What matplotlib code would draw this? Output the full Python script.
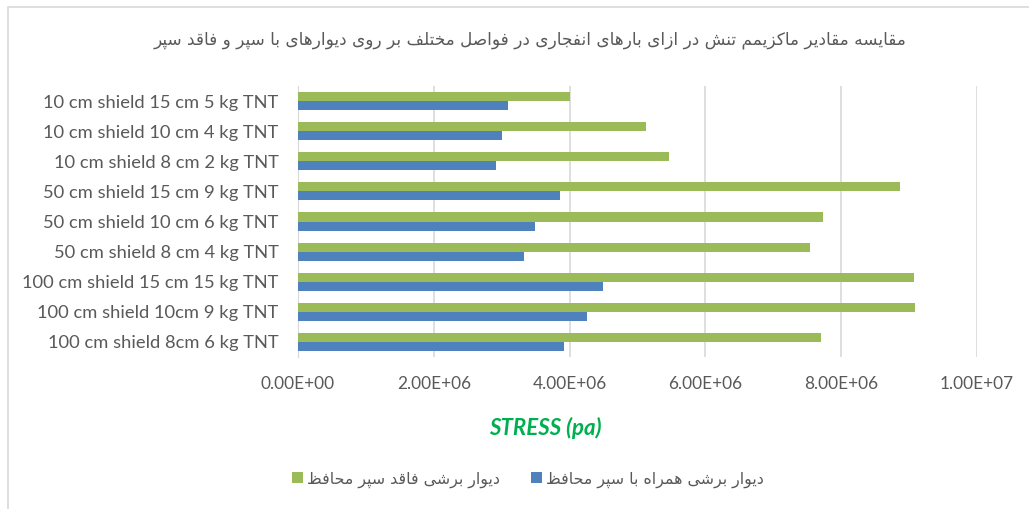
import numpy as np
import matplotlib
matplotlib.use("Agg")
import matplotlib.pyplot as plt
from matplotlib.patches import Rectangle
from matplotlib.ticker import FuncFormatter

# Data (top to bottom as shown in the chart)
categories = [
    "10 cm shield 15 cm 5 kg TNT",
    "10 cm shield 10 cm 4 kg TNT",
    "10 cm shield 8 cm 2 kg TNT",
    "50 cm shield 15 cm 9 kg TNT",
    "50 cm shield 10 cm 6 kg TNT",
    "50 cm shield 8 cm 4 kg TNT",
    "100 cm shield 15 cm 15 kg TNT",
    "100 cm shield 10cm 9 kg TNT",
    "100 cm shield 8cm 6 kg TNT",
]
no_shield = [4.00e6, 5.13e6, 5.46e6, 8.86e6, 7.73e6, 7.54e6, 9.07e6, 9.09e6, 7.70e6]
with_shield = [3.09e6, 3.00e6, 2.92e6, 3.86e6, 3.49e6, 3.33e6, 4.49e6, 4.26e6, 3.92e6]
x_ticks = [0, 2e6, 4e6, 6e6, 8e6, 1e7]

title_fa = "مقایسه مقادیر ماکزیمم تنش در ازای بارهای انفجاری در فواصل مختلف بر روی دیوارهای با سپر و فاقد سپر"
label_no_shield = "دیوار برشی فاقد سپر محافظ"
label_shield = "دیوار برشی همراه با سپر محافظ"

# minimal Persian shaping (matplotlib has no bidi / joining support)
FORMS = {
    "ا": (0xFE8D, 0xFE8E), "د": (0xFEA9, 0xFEAA), "ر": (0xFEAD, 0xFEAE),
    "ز": (0xFEAF, 0xFEB0), "و": (0xFEED, 0xFEEE),
    "ب": (0xFE8F, 0xFE90, 0xFE91, 0xFE92), "پ": (0xFB56, 0xFB57, 0xFB58, 0xFB59),
    "ت": (0xFE95, 0xFE96, 0xFE97, 0xFE98), "ج": (0xFE9D, 0xFE9E, 0xFE9F, 0xFEA0),
    "ح": (0xFEA1, 0xFEA2, 0xFEA3, 0xFEA4), "خ": (0xFEA5, 0xFEA6, 0xFEA7, 0xFEA8),
    "س": (0xFEB1, 0xFEB2, 0xFEB3, 0xFEB4), "ش": (0xFEB5, 0xFEB6, 0xFEB7, 0xFEB8),
    "ص": (0xFEB9, 0xFEBA, 0xFEBB, 0xFEBC), "ظ": (0xFEC5, 0xFEC6, 0xFEC7, 0xFEC8),
    "ف": (0xFED1, 0xFED2, 0xFED3, 0xFED4), "ق": (0xFED5, 0xFED6, 0xFED7, 0xFED8),
    "ک": (0xFB8E, 0xFB8F, 0xFB90, 0xFB91), "ل": (0xFEDD, 0xFEDE, 0xFEDF, 0xFEE0),
    "م": (0xFEE1, 0xFEE2, 0xFEE3, 0xFEE4), "ن": (0xFEE5, 0xFEE6, 0xFEE7, 0xFEE8),
    "ه": (0xFEE9, 0xFEEA, 0xFEEB, 0xFEEC), "ی": (0xFBFC, 0xFBFD, 0xFBFE, 0xFBFF),
}


def shape(text):
    out = []
    for i, ch in enumerate(text):
        if ch not in FORMS:
            out.append(ch)
            continue
        f = FORMS[ch]
        prev = text[i - 1] if i > 0 else ""
        nxt = text[i + 1] if i + 1 < len(text) else ""
        join_prev = prev in FORMS and len(FORMS[prev]) == 4
        join_next = len(f) == 4 and nxt in FORMS
        if join_prev and join_next:
            out.append(chr(f[3]))
        elif join_prev:
            out.append(chr(f[1]))
        elif join_next:
            out.append(chr(f[2]))
        else:
            out.append(chr(f[0]))
    return "".join(reversed(out))


plt.rcParams["font.family"] = ["Lato", "DejaVu Sans"]

GREEN = "#9BBB59"
BLUE = "#4F81BD"
TXT = "#595959"

fig = plt.figure(figsize=(10.29, 5.09), dpi=100)
ax = fig.add_axes([0.2896, 0.2986, 0.6599, 0.5324])

y = np.arange(len(categories))[::-1]
h = 0.3
ax.barh(y + h / 2, no_shield, h, color=GREEN, label=shape(label_no_shield), zorder=3)
ax.barh(y - h / 2, with_shield, h, color=BLUE, label=shape(label_shield), zorder=3)

ax.set_yticks(y)
ax.set_yticklabels(categories, fontsize=13.2, color=TXT)
ax.set_ylim(-0.5, len(categories) - 0.5)
ax.set_xlim(0, 1e7)
ax.set_xticks(x_ticks)
ax.xaxis.set_major_formatter(FuncFormatter(lambda v, p: f"{v:.2E}"))
ax.tick_params(axis="x", labelsize=12.4, colors=TXT, length=0, pad=14)
ax.tick_params(axis="y", length=0, pad=14)
ax.grid(axis="x", color="#D9D9D9", linewidth=1.2, zorder=0)
for s in ["top", "right", "bottom"]:
    ax.spines[s].set_visible(False)
ax.spines["left"].set_color("#D9D9D9")

fig.text(0.515, 0.922, shape(title_fa), ha="center", va="center",
         fontsize=12.2, color=TXT, family="DejaVu Sans")
fig.text(0.5296, 0.16, "STRESS (pa)", ha="center", va="center", fontsize=16,
         color="#00B050", fontweight="bold", fontstyle="italic")

leg = fig.legend(loc="center", bbox_to_anchor=(0.513, 0.058), ncol=2, frameon=False,
                 prop={"family": "DejaVu Sans", "size": 11.4}, labelcolor=TXT,
                 handlelength=0.65, handleheight=0.65, handletextpad=0.25,
                 columnspacing=2.0)

fig.patches.append(Rectangle((8 / 1029, -0.1), 1.2, 1 - 7 / 509 + 0.1,
                             transform=fig.transFigure, fill=False,
                             edgecolor="#D9D9D9", linewidth=1.2))

fig.savefig("out.png", dpi=100)
